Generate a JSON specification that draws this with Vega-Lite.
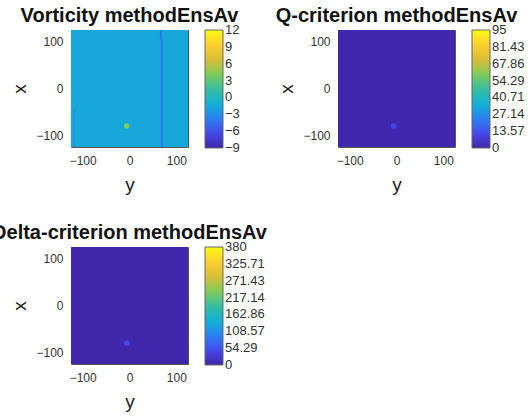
{
  "$schema": "https://vega.github.io/schema/vega-lite/v6.json",
  "background": "white",
  "padding": {"left": -9, "top": 5, "right": 0, "bottom": 0},
  "config": {
    "font": "Liberation Sans",
    "view": {"stroke": "#555", "strokeWidth": 1},
    "axis": {"labelFontSize": 12, "labelColor": "#333", "titleFontSize": 19, "titleFontWeight": "normal", "titleColor": "#222", "grid": false, "domain": false, "ticks": true, "tickSize": -3, "tickColor": "#555", "labelPadding": 11, "values": [-100, 0, 100]},
    "axisLeft": {"titlePadding": 6},
    "axisBottom": {"titlePadding": 9},
    "legend": {"gradientLength": 118, "gradientThickness": 18, "labelFontSize": 13, "labelColor": "#333", "gradientStrokeColor": "#666", "gradientStrokeWidth": 1, "offset": 17, "padding": 0, "labelOffset": 6, "labelOverlap": false},
    "title": {"fontSize": 20, "fontWeight": "bold", "color": "#111", "frame": "group", "anchor": "middle", "offset": 4}
  },
  "datasets": {
    "vortRects": [
      {"ylo": -125, "yhi": 125, "xlo": -125, "xhi": 125, "value": -1.6},
      {"ylo": -119, "yhi": -116, "xlo": -125, "xhi": -45, "value": -3},
      {"ylo": 65, "yhi": 69, "xlo": 105, "xhi": 125, "value": -4.5},
      {"ylo": 67, "yhi": 71, "xlo": -125, "xhi": 105, "value": -4.5}
    ],
    "vortDot": [{"yc": -6, "xc": -80, "value": 4}],
    "qRects": [{"ylo": -125, "yhi": 125, "xlo": -125, "xhi": 125, "value": 0.8}],
    "qDot": [{"yc": -6, "xc": -80, "value": 11}],
    "dRects": [{"ylo": -125, "yhi": 125, "xlo": -125, "xhi": 125, "value": 3}],
    "dDot": [{"yc": -6, "xc": -80, "value": 48}]
  },
  "columns": 2,
  "bounds": "flush",
  "spacing": {"column": 150, "row": 100},
  "resolve": {"scale": {"color": "independent", "x": "independent", "y": "independent"}},
  "concat": [
    {
      "width": 117, "height": 117,
      "title": "Vorticity methodEnsAv",
      "layer": [
        {
          "data": {"name": "vortRects"},
          "mark": {"type": "rect"},
          "encoding": {
            "x": {"field": "ylo", "type": "quantitative", "scale": {"domain": [-125, 125], "nice": false, "zero": false}, "title": "y"},
            "x2": {"field": "yhi"},
            "y": {"field": "xlo", "type": "quantitative", "scale": {"domain": [-125, 125], "nice": false, "zero": false}, "title": "x"},
            "y2": {"field": "xhi"},
            "color": {"field": "value", "type": "quantitative", "scale": {"domain": [-9, 12], "range": ["#3e26a8", "#4748eb", "#2a82f2", "#11b1d6", "#36bda0", "#80cc59", "#dbbd36", "#fccf30", "#f9fb14"], "interpolate": "rgb"}, "legend": {"title": null, "values": [-9, -6, -3, 0, 3, 6, 9, 12], "encode": {"labels": {"update": {"baseline": {"value": "middle"}}}}}}
          }
        },
        {
          "data": {"name": "vortDot"},
          "mark": {"type": "circle", "size": 30, "opacity": 1},
          "encoding": {
            "x": {"field": "yc", "type": "quantitative"},
            "y": {"field": "xc", "type": "quantitative"},
            "color": {"field": "value", "type": "quantitative"}
          }
        }
      ]
    },
    {
      "width": 117, "height": 117,
      "title": "Q-criterion methodEnsAv",
      "layer": [
        {
          "data": {"name": "qRects"},
          "mark": {"type": "rect"},
          "encoding": {
            "x": {"field": "ylo", "type": "quantitative", "scale": {"domain": [-125, 125], "nice": false, "zero": false}, "title": "y"},
            "x2": {"field": "yhi"},
            "y": {"field": "xlo", "type": "quantitative", "scale": {"domain": [-125, 125], "nice": false, "zero": false}, "title": "x"},
            "y2": {"field": "xhi"},
            "color": {"field": "value", "type": "quantitative", "scale": {"domain": [0, 95], "range": ["#3e26a8", "#4748eb", "#2a82f2", "#11b1d6", "#36bda0", "#80cc59", "#dbbd36", "#fccf30", "#f9fb14"], "interpolate": "rgb"}, "legend": {"title": null, "values": [0, 13.57, 27.14, 40.71, 54.29, 67.86, 81.43, 95], "format": ".2~f", "encode": {"labels": {"update": {"baseline": {"value": "middle"}}}}}}
          }
        },
        {
          "data": {"name": "qDot"},
          "mark": {"type": "circle", "size": 30, "opacity": 1},
          "encoding": {
            "x": {"field": "yc", "type": "quantitative"},
            "y": {"field": "xc", "type": "quantitative"},
            "color": {"field": "value", "type": "quantitative"}
          }
        }
      ]
    },
    {
      "width": 117, "height": 117,
      "title": "Delta-criterion methodEnsAv",
      "layer": [
        {
          "data": {"name": "dRects"},
          "mark": {"type": "rect"},
          "encoding": {
            "x": {"field": "ylo", "type": "quantitative", "scale": {"domain": [-125, 125], "nice": false, "zero": false}, "title": "y"},
            "x2": {"field": "yhi"},
            "y": {"field": "xlo", "type": "quantitative", "scale": {"domain": [-125, 125], "nice": false, "zero": false}, "title": "x"},
            "y2": {"field": "xhi"},
            "color": {"field": "value", "type": "quantitative", "scale": {"domain": [0, 380], "range": ["#3e26a8", "#4748eb", "#2a82f2", "#11b1d6", "#36bda0", "#80cc59", "#dbbd36", "#fccf30", "#f9fb14"], "interpolate": "rgb"}, "legend": {"title": null, "values": [0, 54.29, 108.57, 162.86, 217.14, 271.43, 325.71, 380], "format": ".2~f", "encode": {"labels": {"update": {"baseline": {"value": "middle"}}}}}}
          }
        },
        {
          "data": {"name": "dDot"},
          "mark": {"type": "circle", "size": 30, "opacity": 1},
          "encoding": {
            "x": {"field": "yc", "type": "quantitative"},
            "y": {"field": "xc", "type": "quantitative"},
            "color": {"field": "value", "type": "quantitative"}
          }
        }
      ]
    }
  ]
}
